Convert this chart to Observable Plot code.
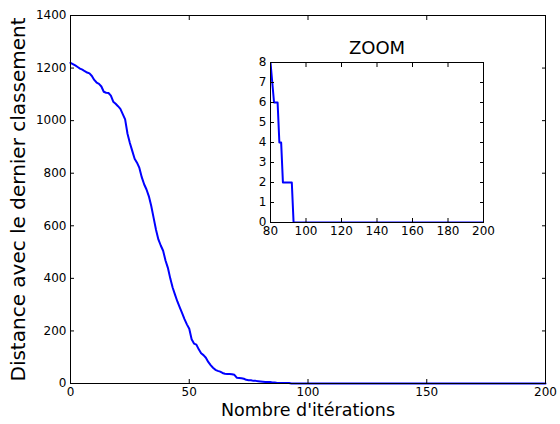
<!DOCTYPE html>
<html>
<head>
<meta charset="utf-8">
<script src="https://cdn.jsdelivr.net/npm/d3@7"></script>
<script src="https://cdn.jsdelivr.net/npm/@observablehq/plot@0.6"></script>
<style>
  html, body { margin: 0; padding: 0; background: white; }
  #chart { position: relative; width: 560px; height: 424px; }
  #chart svg { position: absolute; left: 0; top: 0; }
</style>
</head>
<body>
<div id="chart"></div>
<script>
// Iteration number and distance to the previous ranking
const iterations = [
  0, 1, 2, 3, 4, 5, 6, 7, 8, 9,
  10, 11, 12, 13, 14, 15, 16, 17, 18, 19,
  20, 21, 22, 23, 24, 25, 26, 27, 28, 29,
  30, 31, 32, 33, 34, 35, 36, 37, 38, 39,
  40, 41, 42, 43, 44, 45, 46, 47, 48, 49,
  50, 51, 52, 53, 54, 55, 56, 57, 58, 59,
  60, 61, 62, 63, 64, 65, 66, 67, 68, 69,
  70, 71, 72, 73, 74, 75, 76, 77, 78, 79,
  80, 81, 82, 84, 85, 86, 87, 92, 93, 200
];
const distances = [
  1220, 1215, 1210, 1204, 1198, 1194, 1188, 1183, 1180, 1170,
  1155, 1145, 1140, 1130, 1110, 1106, 1105, 1095, 1072, 1064,
  1055, 1045, 1025, 1005, 950, 915, 885, 855, 840, 820,
  785, 758, 738, 712, 675, 630, 585, 548, 525, 505,
  468, 440, 400, 365, 338, 312, 290, 268, 245, 225,
  208, 168, 152, 148, 130, 115, 108, 98, 82, 70,
  60, 52, 48, 45, 40, 37, 36, 36, 35, 33,
  22, 21, 20, 18, 14, 12, 12, 10, 10, 9,
  8, 7, 6, 6, 4, 4, 2, 2, 0, 0
];

const mainXTicks = [0, 50, 100, 150, 200];
const mainYTicks = [0, 200, 400, 600, 800, 1000, 1200, 1400];
const zoomXTicks = [80, 100, 120, 140, 160, 180, 200];
const zoomYTicks = [0, 1, 2, 3, 4, 5, 6, 7, 8];

const xLabel = "Nombre d'itérations";
const yLabel = "Distance avec le dernier classement";
const zoomTitle = "ZOOM";

const data = iterations.map((it, i) => ({iteration: it, distance: distances[i]}));

const font = "DejaVu Sans, Liberation Sans, sans-serif";
const blue = "#0000ff";
const fmt = d => String(d);

const main = Plot.plot({
  width: 560,
  height: 424,
  marginLeft: 70,
  marginRight: 15,
  marginTop: 15,
  marginBottom: 41,
  style: {fontFamily: font, fontSize: "12px", color: "black", background: "white"},
  x: {domain: [0, 200]},
  y: {domain: [0, 1400]},
  marks: [
    Plot.line(data, {x: "iteration", y: "distance", stroke: blue, strokeWidth: 2}),
    Plot.frame({stroke: "black", strokeWidth: 1}),
    Plot.axisX(mainXTicks, {anchor: "bottom", tickSize: -4, tickPadding: 8, tickFormat: fmt, label: null}),
    Plot.axisX(mainXTicks, {anchor: "top", tickSize: -4, fill: "none", label: null}),
    Plot.axisY(mainYTicks, {anchor: "left", tickSize: -4, tickPadding: 8, tickFormat: fmt, label: null}),
    Plot.axisY(mainYTicks, {anchor: "right", tickSize: -4, fill: "none", label: null}),
    Plot.text([xLabel], {frameAnchor: "bottom", dy: 27, lineAnchor: "middle", textAnchor: "middle", fontSize: 17.5, fill: "black"}),
    Plot.text([yLabel], {frameAnchor: "left", dx: -52, rotate: -90, lineAnchor: "middle", textAnchor: "middle", fontSize: 20, fill: "black"})
  ]
});

const inset = Plot.plot({
  width: 560,
  height: 424,
  marginLeft: 270,
  marginRight: 77,
  marginTop: 62,
  marginBottom: 202,
  style: {fontFamily: font, fontSize: "12px", color: "black", background: "transparent"},
  x: {domain: [80, 200]},
  y: {domain: [0, 8]},
  marks: [
    Plot.frame({fill: "white", stroke: "none"}),
    Plot.line(data, {x: "iteration", y: "distance", stroke: blue, strokeWidth: 2, clip: true}),
    Plot.frame({stroke: "black", strokeWidth: 1}),
    Plot.axisX(zoomXTicks, {anchor: "bottom", tickSize: -4, tickPadding: 8, tickFormat: fmt, label: null}),
    Plot.axisX(zoomXTicks, {anchor: "top", tickSize: -4, fill: "none", label: null}),
    Plot.axisY(zoomYTicks, {anchor: "left", tickSize: -4, tickPadding: 8, tickFormat: fmt, label: null}),
    Plot.axisY(zoomYTicks, {anchor: "right", tickSize: -4, fill: "none", label: null}),
    Plot.text([zoomTitle], {frameAnchor: "top", dy: -14, lineAnchor: "middle", textAnchor: "middle", fontSize: 18, fill: "black"})
  ]
});

const el = document.getElementById("chart");
el.appendChild(main);
el.appendChild(inset);
</script>
</body>
</html>
